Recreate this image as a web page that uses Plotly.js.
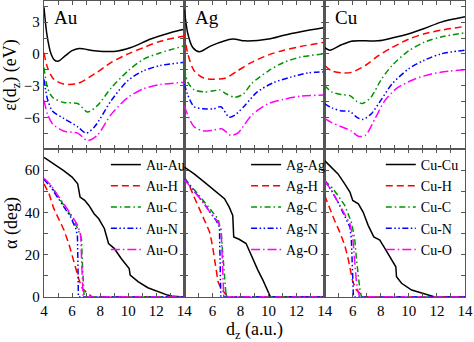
<!DOCTYPE html>
<html>
<head>
<meta charset="utf-8">
<script src="https://cdn.plot.ly/plotly-3.0.1.min.js"></script>
<style>
  html, body { margin: 0; padding: 0; background: #fff; }
  #chart { width: 474px; height: 342px; }
</style>
</head>
<body>
<div id="chart"></div>
<script>
// ---- energy eps(dz), eV (top row) ----
const auAuEx = [4, 4.2, 4.5, 4.75, 5.0, 5.5, 6.0, 6.5, 7.6, 9.0, 10.2, 11.6, 13, 14];
const auAuE  = [4.4, 1.9, 0, -0.6, -0.7, -0.2, 0.3, 0.5, 0.3, 0.23, 0.6, 1.4, 2.0, 2.33];
const auHEx  = [4, 4.25, 4.7, 5.4, 6.4, 7.6, 8.8, 10, 11.1, 12.3, 14];
const auHE   = [0.1, -1.3, -2.4, -2.85, -2.8, -1.9, -0.8, 0, 0.6, 1.2, 1.7];
const auCEx  = [4, 4.25, 4.6, 5.4, 6.4, 7.1, 7.8, 8.8, 10, 11.1, 12.3, 14];
const auCE   = [-1.3, -3.2, -4.1, -4.6, -4.7, -5.5, -4.9, -3.2, -1.6, -0.5, 0.1, 0.76];
const auNEx  = [4, 4.25, 4.6, 5.4, 6.4, 7.0, 7.6, 8.8, 10, 11.1, 12.3, 14];
const auNE   = [-2.4, -4.3, -5.4, -6.1, -6.9, -7.5, -6.9, -4.4, -2.5, -1.6, -1.1, -0.8];
const auOEx  = [4, 4.25, 4.6, 5.4, 6.4, 7.1, 7.8, 8.8, 10, 11.1, 12.3, 14];
const auOE   = [-4.4, -5.7, -6.6, -7.3, -7.5, -8.2, -7.7, -5.7, -4.1, -3.3, -2.9, -2.7];

const agAgEx = [4, 4.25, 4.6, 5.07, 5.9, 7.45, 8.3, 10, 11.1, 12.3, 14];
const agAgE  = [4.2, 1.9, 0.6, 0.2, 0.76, 1.4, 1.23, 1.4, 1.77, 2.1, 2.5];
const agHEx  = [4, 4.25, 4.7, 5.4, 6.1, 6.9, 7.8, 8.8, 10, 11.1, 12.3, 14];
const agHE   = [1.9, 0, -1.6, -2.3, -2.4, -2.3, -1.6, -0.8, -0.1, 0.35, 0.7, 1.1];
const agCEx  = [4, 4.25, 4.7, 5.4, 6.1, 6.5, 7.0, 7.6, 8.2, 8.8, 10, 11.1, 12.3, 14];
const agCE   = [-1.4, -2.7, -3.4, -3.6, -3.5, -3.4, -3.8, -4.1, -3.8, -2.8, -1.6, -0.8, -0.3, 0];
const agNEx  = [4, 4.25, 4.7, 5.4, 6.1, 6.6, 7.2, 7.6, 8.3, 9.2, 10.4, 11.6, 12.8, 14];
const agNE   = [-2.85, -3.9, -5.0, -5.2, -5.2, -5.0, -6.0, -5.8, -4.9, -3.6, -2.7, -2.2, -1.8, -1.7];
const agOEx  = [4, 4.25, 4.7, 5.4, 6.1, 6.7, 7.3, 7.8, 8.8, 10, 11.1, 12.3, 14];
const agOE   = [-4.9, -5.8, -6.9, -7.3, -7.2, -7.1, -7.7, -7.5, -5.8, -4.7, -4.3, -4.0, -3.9];

const cuCuEx = [4, 4.36, 4.6, 5.2, 5.9, 6.9, 7.8, 8.8, 10, 11.1, 12.3, 14];
const cuCuE  = [0.6, 0.35, 0.45, 0.86, 1.2, 1.23, 1.23, 1.5, 1.9, 2.4, 3.0, 3.5];
const cuHEx  = [4, 4.5, 5.2, 5.9, 6.9, 7.8, 8.8, 10, 11.1, 12.3, 14];
const cuHE   = [-1.1, -1.6, -1.8, -1.75, -1.1, -0.2, 0.6, 1.4, 1.9, 2.24, 2.6];
const cuCEx  = [4, 4.5, 5.2, 5.8, 6.3, 6.7, 7.3, 8.0, 8.8, 10, 11.1, 12.3, 14];
const cuCE   = [-3.0, -3.6, -3.85, -3.95, -4.5, -4.7, -4.1, -2.5, -1.1, 0.3, 1.1, 1.6, 2.0];
const cuNEx  = [4, 4.5, 5.2, 5.8, 6.3, 6.7, 7.3, 8.0, 8.8, 10, 11.1, 12.3, 14];
const cuNE   = [-4.7, -5.1, -5.4, -5.45, -6.0, -6.2, -5.7, -4.4, -2.85, -1.4, -0.6, 0, 0.35];
const cuOEx  = [4, 4.5, 5.2, 5.9, 6.4, 6.9, 7.6, 8.3, 9.2, 10.4, 11.6, 12.8, 14];
const cuOE   = [-6.1, -6.5, -6.9, -7.3, -7.8, -7.7, -6.1, -4.4, -3.2, -2.4, -1.9, -1.65, -1.5];

// ---- angle alpha, deg (bottom row) ----
const auAuAx = [4, 4.7, 5.4, 6.0, 6.4, 6.57, 6.9, 7.2, 7.57, 7.9, 8.3, 8.6, 9.0, 9.5, 10.07, 10.14, 10.7, 11.4, 12.1, 12.8, 13.2, 14];
const auAuA  = [66, 63, 59.8, 56.7, 53.5, 47.3, 45.7, 43.3, 39.4, 37, 32.4, 25.3, 23, 18.2, 13.5, 10.4, 7.3, 4.4, 2.5, 0.9, 0.3, 0];
const auHAx  = [4, 4.36, 4.7, 5.07, 5.43, 5.8, 6.14, 6.4, 6.5, 6.74, 7.1, 7.45, 14];
const auHA   = [53.5, 48.8, 41.8, 37, 31.6, 24.5, 16.7, 11.2, 8, 4, 1.7, 0, 0];
const auCAx  = [4, 4.48, 4.95, 5.43, 5.9, 6.4, 6.67, 6.74, 6.79, 6.86, 14];
const auCA   = [55.9, 52.7, 48, 43.3, 38.6, 32.4, 27.6, 15.1, 4, 0, 0];
const auNAx  = [4, 4.48, 4.95, 5.43, 5.9, 6.26, 6.38, 6.42, 6.43, 6.45, 14];
const auNA   = [55.6, 52, 47.3, 42.5, 37.8, 32.4, 29.2, 15.1, 4, 0, 0];
const auOAx  = [4, 4.48, 4.95, 5.43, 5.9, 6.4, 6.62, 6.69, 6.74, 6.79, 14];
const auOA   = [56.2, 53, 48.4, 44.1, 39.4, 33.9, 29.2, 15.1, 4, 0, 0];

const agAgAx = [4, 4.7, 5.43, 6.14, 6.86, 7.2, 7.45, 7.52, 7.9, 8.4, 8.76, 9.24, 9.6, 9.95, 10.14, 14];
const agAgA  = [61.4, 58.2, 54.3, 50.4, 46.5, 42.5, 38.6, 28.4, 27.3, 25.3, 19.8, 12.7, 8, 3.3, 0, 0];
const agHAx  = [4, 4.36, 4.7, 5.07, 5.43, 5.8, 6.0, 6.14, 6.26, 6.4, 6.6, 7.0, 7.1, 14];
const agHA   = [56.7, 52.7, 47.3, 41.8, 36.3, 30.8, 24.5, 18.2, 12, 7.3, 4.1, 0.9, 0, 0];
const agCAx  = [4, 4.48, 4.95, 5.43, 5.9, 6.4, 6.62, 6.74, 6.86, 6.9, 6.98, 14];
const agCA   = [56.2, 52.7, 48.8, 44.9, 41, 37, 30.8, 19.8, 10.4, 4, 0, 0];
const agNAx  = [4, 4.48, 4.95, 5.43, 5.9, 6.26, 6.5, 6.55, 6.57, 6.6, 14];
const agNA   = [55.9, 52, 48, 44.1, 39.4, 36.3, 33.1, 19.8, 7.3, 0, 0];
const agOAx  = [4, 4.48, 4.95, 5.43, 5.9, 6.4, 6.62, 6.69, 6.76, 6.81, 14];
const agOA   = [55.6, 52, 48, 43.6, 39.4, 35.5, 32.4, 19.8, 7.3, 0, 0];

const cuCuAx = [4, 4.48, 4.95, 5.43, 5.8, 6.0, 6.4, 6.74, 7.1, 7.5, 7.93, 8.3, 8.76, 9.07, 9.12, 9.48, 10.2, 11.14, 11.86, 14];
const cuCuA  = [64.5, 61.4, 58.2, 53.5, 49.6, 45.7, 44.1, 40.2, 33.9, 28.4, 26.9, 22.9, 17.4, 14.3, 9.6, 6.5, 3.3, 1.3, 0, 0];
const cuHAx  = [4, 4.36, 4.7, 5.07, 5.43, 5.67, 5.86, 6.0, 6.26, 6.6, 6.8, 14];
const cuHA   = [48, 41.8, 36.3, 30.8, 24.5, 18.2, 12, 7.3, 3.3, 0.9, 0, 0];
const cuCAx  = [4, 4.48, 4.95, 5.43, 5.9, 6.14, 6.26, 6.38, 6.5, 6.62, 14];
const cuCA   = [55.1, 52, 48, 43.3, 35.5, 27.6, 18.2, 10.4, 4.1, 0, 0];
const cuNAx  = [4, 4.48, 4.95, 5.43, 5.8, 5.9, 5.95, 6.0, 6.05, 14];
const cuNA   = [55.1, 50.4, 44.9, 38.6, 33.1, 27.6, 18.2, 8.8, 0, 0];
const cuOAx  = [4, 4.48, 4.95, 5.43, 5.8, 6.0, 6.14, 6.26, 6.38, 6.5, 14];
const cuOA   = [55.1, 50.4, 44.9, 39.4, 34.7, 28.4, 18.2, 7.3, 2.5, 0, 0];

const metals = ['Au', 'Ag', 'Cu'];
const partners = ['M', 'H', 'C', 'N', 'O'];
const xTickVals = [4, 6, 8, 10, 12, 14];
const eTickVals = [-6, -3, 0, 3];
const aTickVals = [0, 20, 40, 60];

const energyData = [
  [[auAuEx, auAuE], [auHEx, auHE], [auCEx, auCE], [auNEx, auNE], [auOEx, auOE]],
  [[agAgEx, agAgE], [agHEx, agHE], [agCEx, agCE], [agNEx, agNE], [agOEx, agOE]],
  [[cuCuEx, cuCuE], [cuHEx, cuHE], [cuCEx, cuCE], [cuNEx, cuNE], [cuOEx, cuOE]]
];
const angleData = [
  [[auAuAx, auAuA], [auHAx, auHA], [auCAx, auCA], [auNAx, auNA], [auOAx, auOA]],
  [[agAgAx, agAgA], [agHAx, agHA], [agCAx, agCA], [agNAx, agNA], [agOAx, agOA]],
  [[cuCuAx, cuCuA], [cuHAx, cuHA], [cuCAx, cuCA], [cuNAx, cuNA], [cuOAx, cuOA]]
];

const styles = [
  { color: '#000000', dash: 'solid' },
  { color: '#ff0000', dash: '7px,4px' },
  { color: 'rgb(0,150,0)', dash: '6px,3px,1.5px,3px' },
  { color: '#0000ff', dash: '6px,2.5px,1.5px,2.5px,1.5px,2.5px' },
  { color: '#ff00ff', dash: '9px,3px,1.5px,3px' }
];

const serif = '"Liberation Serif", "DejaVu Serif", serif';
let data = [];

for (let m = 0; m < 3; m++) {
  for (let p = 0; p < 5; p++) {
    let name = metals[m] + '-' + (p === 0 ? metals[m] : partners[p]);
    data.push({
      x: energyData[m][p][0],
      y: energyData[m][p][1],
      xaxis: 'x' + (m === 0 ? '' : m + 1),
      yaxis: 'y' + (m === 0 ? '' : m + 1),
      mode: 'lines',
      line: { color: styles[p].color, dash: styles[p].dash, width: 1.5, shape: 'spline', smoothing: 0.8 },
      showlegend: false,
      hoverinfo: 'skip'
    });
    data.push({
      x: angleData[m][p][0],
      y: angleData[m][p][1],
      xaxis: 'x' + (m + 4),
      yaxis: 'y' + (m + 4),
      mode: 'lines',
      name: name,
      legend: m === 0 ? 'legend' : 'legend' + (m + 1),
      line: { color: styles[p].color, dash: styles[p].dash, width: 1.5 },
      cliponaxis: false,
      hoverinfo: 'skip'
    });
  }
}

function xAxis(col, row) {
  let ax = {
    domain: [col / 3, (col + 1) / 3],
    range: [4, 14],
    anchor: 'y' + (row * 3 + col + 1 === 1 ? '' : row * 3 + col + 1),
    showline: true, mirror: 'ticks', linecolor: '#555', linewidth: 1.3,
    ticks: 'inside', ticklen: 4, tickcolor: '#555', tickwidth: 1,
    tickvals: col === 0 ? xTickVals : xTickVals.slice(1),
    minor: { dtick: 1, ticks: 'inside', ticklen: 4, tickcolor: '#555' },
    showgrid: false, zeroline: false,
    showticklabels: row === 1,
    tickfont: { family: serif, size: 15, color: '#000' }
  };
  if (row === 1 && col === 1) {
    ax.title = { text: 'd<sub>z</sub> (a.u.)', font: { family: serif, size: 18, color: '#000' }, standoff: 4 };
  }
  return ax;
}

function yAxis(col, row) {
  let ax = {
    domain: row === 0 ? [0.5, 1] : [0, 0.5],
    range: row === 0 ? [-9, 5] : [0, 70],
    anchor: 'x' + (row * 3 + col + 1 === 1 ? '' : row * 3 + col + 1),
    showline: true, mirror: 'ticks', linecolor: '#555', linewidth: 1.3,
    ticks: 'inside', ticklen: 4, tickcolor: '#555', tickwidth: 1,
    tickvals: row === 0 ? eTickVals : aTickVals,
    minor: { tick0: 0, dtick: row === 0 ? 1.5 : 10, ticks: 'inside', ticklen: 4, tickcolor: '#555' },
    showgrid: false, zeroline: false,
    showticklabels: col === 0,
    tickfont: { family: serif, size: 15, color: '#000' }
  };
  if (col === 0) {
    ax.title = {
      text: row === 0 ? 'ε(d<sub>z</sub>) (eV)' : 'α (deg)',
      font: { family: serif, size: 18, color: '#000' },
      standoff: 2
    };
  }
  return ax;
}

let layout = {
  width: 474,
  height: 342,
  margin: { l: 44, r: 9, t: 1, b: 45 },
  paper_bgcolor: '#fff',
  plot_bgcolor: '#fff',
  font: { family: serif, size: 15, color: '#000' },
  annotations: metals.map((m, i) => ({
    text: m,
    xref: 'x' + (i === 0 ? '' : i + 1) + ' domain',
    yref: 'y' + (i === 0 ? '' : i + 1) + ' domain',
    x: 0.06, y: 0.975, xanchor: 'left', yanchor: 'top',
    showarrow: false,
    font: { family: serif, size: 19, color: '#000' }
  }))
};

const legendX = [0.147, 0.48, 0.80];
for (let c = 0; c < 3; c++) {
  layout['xaxis' + (c === 0 ? '' : c + 1)] = xAxis(c, 0);
  layout['yaxis' + (c === 0 ? '' : c + 1)] = yAxis(c, 0);
  layout['xaxis' + (c + 4)] = xAxis(c, 1);
  layout['yaxis' + (c + 4)] = yAxis(c, 1);
  layout['legend' + (c === 0 ? '' : c + 1)] = {
    x: legendX[c], y: 0.5, xanchor: 'left', yanchor: 'top',
    bgcolor: 'rgba(0,0,0,0)',
    font: { family: serif, size: 14, color: '#000' },
    tracegroupgap: 0
  };
}

Plotly.newPlot('chart', data, layout, { staticPlot: true });
</script>
</body>
</html>
